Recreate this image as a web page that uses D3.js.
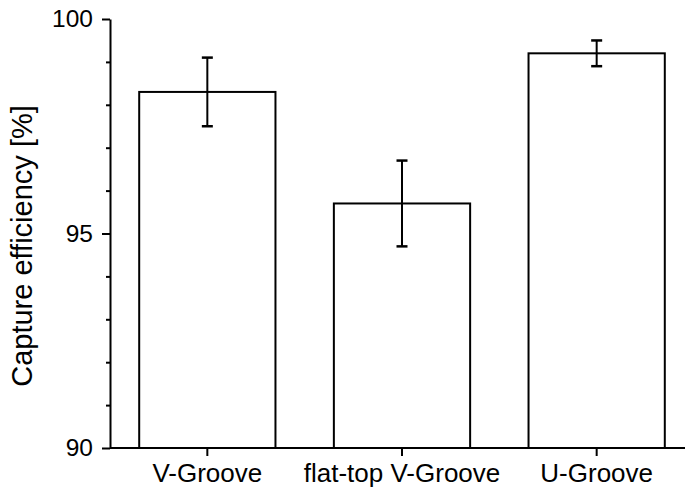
<!DOCTYPE html>
<html>
<head>
<meta charset="utf-8">
<script src="https://cdn.jsdelivr.net/npm/d3@7"></script>
<style>
  body { margin: 0; background: #fff; }
  text { font-family: "Liberation Sans", Arial, sans-serif; fill: #000; }
</style>
</head>
<body>
<script>
var svgWidth = 685;
var svgHeight = 492;

// data
var grooves = ["V-Groove", "flat-top V-Groove", "U-Groove"];
var efficiency = [98.3, 95.7, 99.2];
var errors = [0.8, 1.0, 0.3];
var majorTicks = [90, 95, 100];
var minorTicks = [91, 92, 93, 94, 96, 97, 98, 99];

var data = grooves.map((g, i) => ({name: g, value: efficiency[i], err: errors[i]}));

var svg = d3.select("body").append("svg")
    .attr("width", svgWidth)
    .attr("height", svgHeight);

var x = d3.scaleBand()
    .domain(grooves)
    .range([110, 694])
    .paddingInner(0.3)
    .paddingOuter(0.15);

var y = d3.scaleLinear()
    .domain([90, 100])
    .range([448, 19]);

// bars
svg.selectAll("rect.bar")
  .data(data)
  .join("rect")
    .attr("class", "bar")
    .attr("x", d => x(d.name))
    .attr("width", x.bandwidth())
    .attr("y", d => y(d.value))
    .attr("height", d => y(90) - y(d.value))
    .attr("fill", "#fff")
    .attr("stroke", "#000")
    .attr("stroke-width", 2);

// error bars
var eb = svg.selectAll("g.err")
  .data(data)
  .join("g")
    .attr("class", "err")
    .attr("stroke", "#000")
    .attr("stroke-width", 2);

eb.append("line")
    .attr("x1", d => x(d.name) + x.bandwidth() / 2)
    .attr("x2", d => x(d.name) + x.bandwidth() / 2)
    .attr("y1", d => y(d.value - d.err))
    .attr("y2", d => y(d.value + d.err));

[-1, 1].forEach(s => {
  eb.append("line")
      .attr("x1", d => x(d.name) + x.bandwidth() / 2 - 5.5)
      .attr("x2", d => x(d.name) + x.bandwidth() / 2 + 5.5)
      .attr("y1", d => y(d.value + s * d.err))
      .attr("y2", d => y(d.value + s * d.err))
      .attr("stroke-width", 2.5);
});

// y axis, minor ticks first
svg.append("g")
    .attr("transform", "translate(110,0)")
    .call(d3.axisLeft(y).tickValues(minorTicks).tickSize(4).tickFormat(""))
    .call(g => g.select(".domain").remove())
    .selectAll("line").attr("stroke-width", 2);

var yAxis = svg.append("g")
    .attr("transform", "translate(110,0)")
    .call(d3.axisLeft(y).tickValues(majorTicks).tickSize(8).tickSizeOuter(0).tickPadding(9));
yAxis.select(".domain").attr("stroke-width", 2);
yAxis.selectAll("line").attr("stroke-width", 2);
yAxis.selectAll("text").style("font-size", "24.5px");

// x axis
var xAxis = svg.append("g")
    .attr("transform", "translate(0,448)")
    .call(d3.axisBottom(x).tickSize(8).tickSizeOuter(0).tickPadding(8));
xAxis.select(".domain").attr("stroke-width", 2).attr("d", "M110,0H685");
xAxis.selectAll("line").attr("stroke-width", 2);
xAxis.selectAll("text").style("font-size", "26px");

// y title
svg.append("text")
    .attr("transform", "translate(32,246) rotate(-90)")
    .attr("text-anchor", "middle")
    .style("font-size", "29px")
    .text("Capture efficiency [%]");
</script>
</body>
</html>
